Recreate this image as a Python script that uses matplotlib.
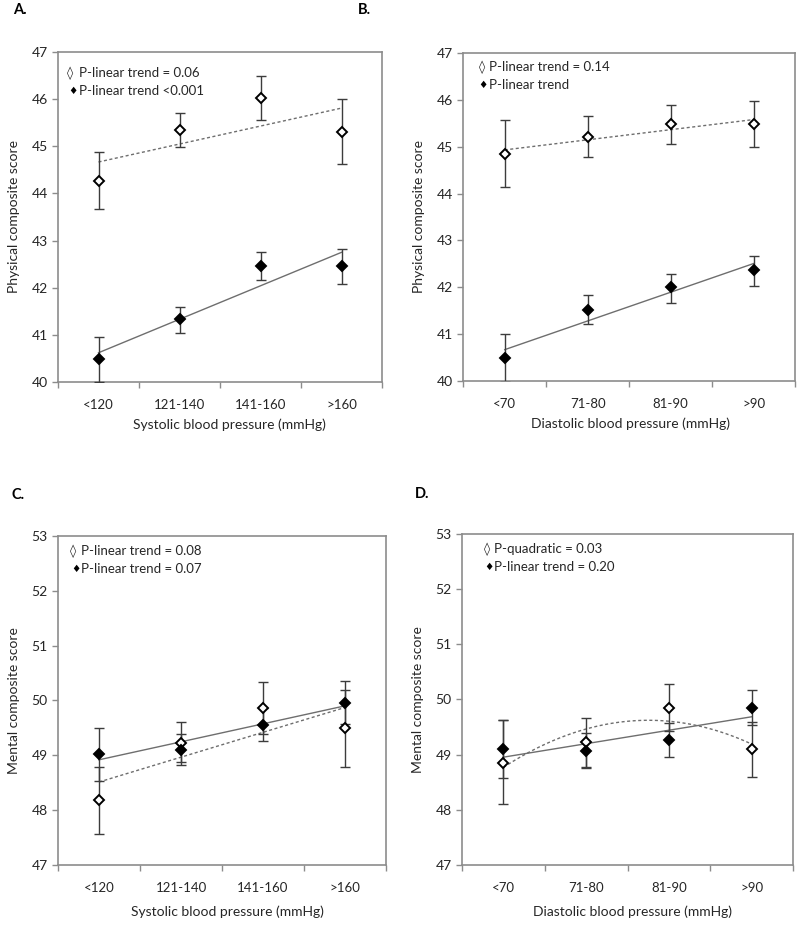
import matplotlib
matplotlib.use('Agg')
import matplotlib.pyplot as plt
import numpy as np

plt.rcParams['font.family'] = ['Lato', 'DejaVu Sans']

# Category labels
sys_cats = ['<120', '121-140', '141-160', '>160']
dia_cats = ['<70', '71-80', '81-90', '>90']

# Panel A: physical score by systolic BP (open = one group, filled = other)
a_open_mean = [44.27, 45.34, 46.03, 45.31]
a_open_lo = [43.66, 44.99, 45.56, 44.62]
a_open_hi = [44.87, 45.70, 46.48, 46.00]
a_fill_mean = [40.48, 41.33, 42.46, 42.47]
a_fill_lo = [40.00, 41.04, 42.16, 42.08]
a_fill_hi = [40.96, 41.60, 42.76, 42.83]

# Panel B: physical score by diastolic BP
b_open_mean = [44.85, 45.21, 45.48, 45.48]
b_open_lo = [44.13, 44.79, 45.06, 45.00]
b_open_hi = [45.58, 45.65, 45.90, 45.97]
b_fill_mean = [40.48, 41.51, 42.00, 42.36]
b_fill_lo = [39.97, 41.21, 41.67, 42.03]
b_fill_hi = [41.00, 41.84, 42.28, 42.67]

# Panel C: mental score by systolic BP
c_open_mean = [48.19, 49.23, 49.86, 49.49]
c_open_lo = [47.57, 48.88, 49.39, 48.78]
c_open_hi = [48.79, 49.60, 50.33, 50.20]
c_fill_mean = [49.02, 49.10, 49.56, 49.96]
c_fill_lo = [48.53, 48.82, 49.26, 49.58]
c_fill_hi = [49.49, 49.39, 49.86, 50.35]

# Panel D: mental score by diastolic BP
d_open_mean = [48.85, 49.22, 49.85, 49.11]
d_open_lo = [48.11, 48.77, 49.42, 48.60]
d_open_hi = [49.62, 49.67, 50.28, 49.60]
d_fill_mean = [49.10, 49.07, 49.26, 49.85]
d_fill_lo = [48.58, 48.75, 48.96, 49.53]
d_fill_hi = [49.62, 49.39, 49.57, 50.17]

FRAME = '#8c8c8c'
ERR = '#3c3c3c'
TREND = '#6e6e6e'
TXT = '#262626'


def draw_panel(ax, cats, open_s, fill_s, open_deg, legend, leg_pos,
               xlabel, ylabel, ylim, xlabel_xy):
    x = np.arange(len(cats))
    xs = np.linspace(x[0], x[-1], 100)

    # trend lines (least squares fits)
    co = np.polyfit(x, open_s[0], open_deg)
    ax.plot(xs, np.polyval(co, xs), color=TREND, lw=1.0,
            linestyle=(0, (2.2, 1.8)), zorder=2)
    cf = np.polyfit(x, fill_s[0], 1)
    ax.plot(xs, np.polyval(cf, xs), color=TREND, lw=1.0, zorder=2)

    for (mean, lo, hi), face in ((open_s, 'white'), (fill_s, 'black')):
        mean = np.array(mean)
        yerr = [mean - np.array(lo), np.array(hi) - mean]
        ax.errorbar(x, mean, yerr=yerr, fmt='none', ecolor=ERR,
                    elinewidth=1.0, capsize=3.6, capthick=1.0, zorder=3)
        ax.plot(x, mean, linestyle='none', marker='D', ms=4.8,
                mfc=face, mec='black', mew=1.4, zorder=4)

    ax.set_xlim(-0.5, len(cats) - 0.5)
    ax.set_ylim(*ylim)
    ax.set_yticks(np.arange(ylim[0], ylim[1] + 1))
    ax.set_xticks(x)
    ax.set_xticklabels(cats)
    ax.set_xticks(np.arange(-0.5, len(cats)), minor=True)
    ax.tick_params(axis='x', which='major', length=0, pad=12, labelsize=9.5,
                   labelcolor=TXT)
    ax.tick_params(axis='x', which='minor', length=4.5, color=FRAME, width=1)
    ax.tick_params(axis='y', length=4.5, color=FRAME, width=1, pad=3,
                   labelsize=10, labelcolor=TXT)
    for sp in ax.spines.values():
        sp.set_color(FRAME)
        sp.set_linewidth(1.2)
    ax.set_xlabel(xlabel, fontsize=10, color=TXT)
    ax.xaxis.set_label_coords(*xlabel_xy)
    ax.set_ylabel(ylabel, fontsize=10, color=TXT, labelpad=8)

    # legend written as text, offsets in pixels from the top-left corner
    bb = ax.get_position()
    w, h = bb.width * 800, bb.height * 926
    sx1, sx2, tx, y1, y2 = leg_pos
    ax.text(sx1 / w, 1 - y1 / h, '\u25ca', transform=ax.transAxes, fontsize=9,
            va='center', ha='center', family=['DejaVu Sans'], color=TXT)
    ax.text(tx / w, 1 - y1 / h, legend[0], transform=ax.transAxes,
            fontsize=9.5, va='center', ha='left', color=TXT)
    ax.text(sx2 / w, 1 - y2 / h, '\u2666', transform=ax.transAxes,
            fontsize=7.5, va='center', ha='center', family=['DejaVu Sans'])
    ax.text(tx / w, 1 - y2 / h, legend[1], transform=ax.transAxes,
            fontsize=9.5, va='center', ha='left', color=TXT)


fig = plt.figure(figsize=(8, 9.26), dpi=100)

ax_a = fig.add_axes([0.0725, 0.5875, 0.405, 0.3564])
ax_b = fig.add_axes([0.579, 0.5886, 0.415, 0.3542])
ax_c = fig.add_axes([0.0725, 0.0659, 0.41, 0.3553])
ax_d = fig.add_axes([0.5775, 0.0659, 0.41375, 0.3575])

draw_panel(ax_a, sys_cats, (a_open_mean, a_open_lo, a_open_hi),
           (a_fill_mean, a_fill_lo, a_fill_hi), 1,
           ['P-linear trend = 0.06', 'P-linear trend <0.001'],
           (12, 15, 21, 21, 39),
           'Systolic blood pressure (mmHg)', 'Physical composite score',
           (40, 47), (0.53, -0.112))
draw_panel(ax_b, dia_cats, (b_open_mean, b_open_lo, b_open_hi),
           (b_fill_mean, b_fill_lo, b_fill_hi), 1,
           ['P-linear trend = 0.14', 'P-linear trend'],
           (18.5, 20, 25.5, 14, 32),
           'Diastolic blood pressure (mmHg)', 'Physical composite score',
           (40, 47), (0.505, -0.112))
draw_panel(ax_c, sys_cats, (c_open_mean, c_open_lo, c_open_hi),
           (c_fill_mean, c_fill_lo, c_fill_hi), 1,
           ['P-linear trend = 0.08', 'P-linear trend = 0.07'],
           (15, 17.5, 23.5, 15, 33),
           'Systolic blood pressure (mmHg)', 'Mental composite score',
           (47, 53), (0.518, -0.122))
draw_panel(ax_d, dia_cats, (d_open_mean, d_open_lo, d_open_hi),
           (d_fill_mean, d_fill_lo, d_fill_hi), 2,
           ['P-quadratic = 0.03', 'P-linear trend = 0.20'],
           (25, 27, 32.5, 15, 33),
           'Diastolic blood pressure (mmHg)', 'Mental composite score',
           (47, 53), (0.514, -0.122))

# panel letters
for lbl, px, py in (('A.', 13, 10), ('B.', 358, 10), ('C.', 12, 495), ('D.', 415, 494)):
    fig.text(px / 800, 1 - py / 926, lbl, fontsize=10.5, fontweight='bold',
             va='center', ha='left', color='black')

fig.savefig('out.png', dpi=100)
